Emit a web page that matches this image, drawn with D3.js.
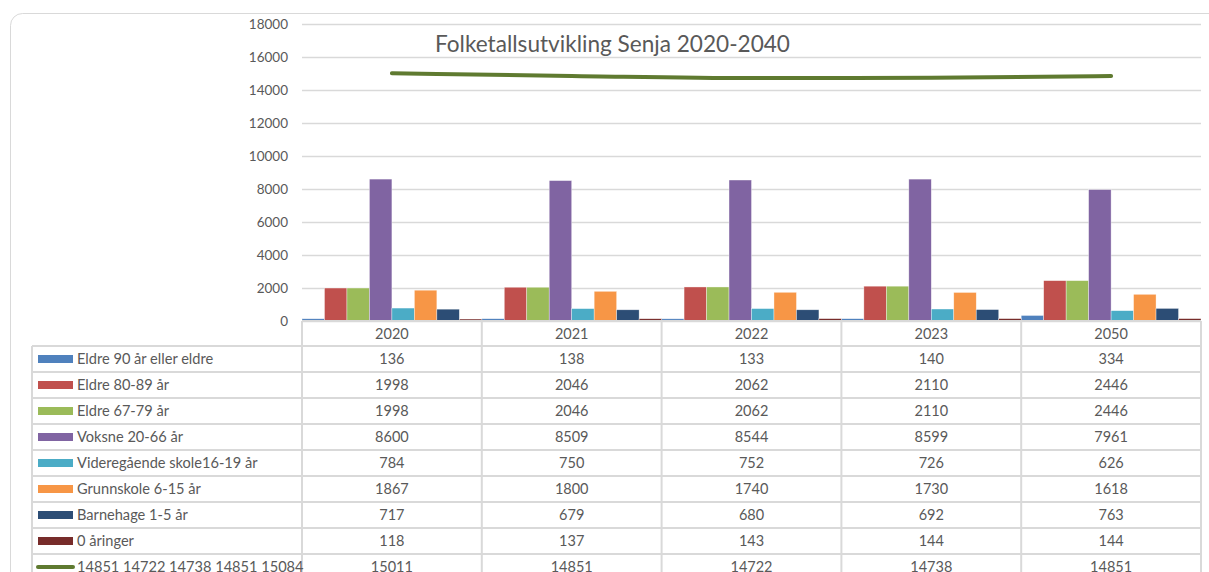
<!DOCTYPE html>
<html>
<head>
<meta charset="utf-8">
<script src="https://cdn.jsdelivr.net/npm/d3@7"></script>
<style>
  html, body { margin: 0; padding: 0; background: #fff; }
  svg { display: block; font-family: Lato, "Open Sans", sans-serif; }
</style>
</head>
<body>
<div id="chart"></div>
<script>
// data
var categories = ['2020', '2021', '2022', '2023', '2050'];
var seriesNames = [
  'Eldre 90 år eller eldre',
  'Eldre 80-89 år',
  'Eldre 67-79 år',
  'Voksne 20-66 år',
  'Videregående skole16-19 år',
  'Grunnskole 6-15 år',
  'Barnehage 1-5 år',
  '0 åringer'
];
var seriesValues = [
  [136, 138, 133, 140, 334],
  [1998, 2046, 2062, 2110, 2446],
  [1998, 2046, 2062, 2110, 2446],
  [8600, 8509, 8544, 8599, 7961],
  [784, 750, 752, 726, 626],
  [1867, 1800, 1740, 1730, 1618],
  [717, 679, 680, 692, 763],
  [118, 137, 143, 144, 144]
];
var lineName = '14851 14722 14738 14851 15084';
var lineValues = [15011, 14851, 14722, 14738, 14851];
var yTicks = [0, 2000, 4000, 6000, 8000, 10000, 12000, 14000, 16000, 18000];
var title = 'Folketallsutvikling Senja 2020-2040';

var colors = ['#4F81BD', '#C0504D', '#9BBB59', '#8064A2', '#4BACC6', '#F79646', '#2C4D75', '#772C2A'];
var lineColor = '#5F7A30';
var textColor = '#595959';
var gridColor = '#D9D9D9';

var width = 1209, height = 572;
var plotLeft = 302, plotRight = 1201, plotTop = 24, plotBottom = 321;
var tableLeft = 32, rowH = 26;

var svg = d3.select('#chart').append('svg')
  .attr('width', width)
  .attr('height', height);

// card frame
svg.append('rect')
  .attr('x', 10.5).attr('y', 13.5)
  .attr('width', 1215).attr('height', 640)
  .attr('rx', 12)
  .attr('fill', '#fff')
  .attr('stroke', '#D9D9D9')
  .attr('stroke-width', 1);

var x = d3.scaleBand().domain(categories).range([plotLeft, plotRight]).padding(0);
var xs = d3.scaleBand().domain(d3.range(seriesNames.length)).range([0, x.bandwidth()]).padding(0);
var y = d3.scaleLinear().domain([0, 18000]).range([plotBottom, plotTop]);

// gridlines
svg.append('g')
  .attr('transform', 'translate(' + plotLeft + ',0)')
  .call(d3.axisLeft(y).tickValues(yTicks).tickSize(-(plotRight - plotLeft)).tickFormat(''))
  .call(function(g) { g.select('.domain').remove(); })
  .selectAll('line')
  .attr('stroke', gridColor)
  .attr('stroke-width', 1.3);

// y labels
var yAxis = svg.append('g')
  .attr('transform', 'translate(' + plotLeft + ',0)')
  .call(d3.axisLeft(y).tickValues(yTicks).tickSize(0).tickPadding(14).tickFormat(d3.format('d')));
yAxis.select('.domain').remove();
yAxis.selectAll('text')
  .attr('fill', textColor)
  .style('font-size', '13.5px')
  .style('font-family', 'Lato, "Open Sans", sans-serif');

// bars
var groups = svg.selectAll('.series')
  .data(seriesValues)
  .enter()
  .append('g')
  .attr('class', 'series')
  .attr('fill', function(d, i) { return colors[i]; });

groups.each(function(vals, si) {
  d3.select(this).selectAll('rect')
    .data(vals)
    .enter()
    .append('rect')
    .attr('x', function(d, ci) { return x(categories[ci]) + xs(si); })
    .attr('width', xs.bandwidth())
    .attr('y', function(d) { return y(d); })
    .attr('height', function(d) { return y(0) - y(d); })
    .attr('stroke', '#fff')
    .attr('stroke-opacity', 0.6)
    .attr('stroke-width', 0.6);
});

// total line
var line = d3.line()
  .x(function(d, i) { return x(categories[i]) + x.bandwidth() / 2; })
  .y(function(d) { return y(d); })
  .curve(d3.curveMonotoneX);
svg.append('path')
  .datum(lineValues)
  .attr('d', line)
  .attr('fill', 'none')
  .attr('stroke', lineColor)
  .attr('stroke-width', 4)
  .attr('stroke-linecap', 'round');

// title
svg.append('text')
  .attr('x', 435)
  .attr('y', 52)
  .attr('fill', textColor)
  .style('font-size', '22.6px')
  .text(title);

// data table
var rows = seriesNames.map(function(n, i) {
  return { name: n, values: seriesValues[i], color: colors[i], type: 'bar' };
});
rows.push({ name: lineName, values: lineValues, color: lineColor, type: 'line' });

var tableTop = plotBottom + rowH - 1;
var tableBottom = tableTop + rows.length * rowH;
var tbl = svg.append('g').attr('stroke', gridColor).attr('stroke-width', 2);

// baseline
tbl.append('line')
  .attr('x1', plotLeft).attr('x2', plotRight)
  .attr('y1', plotBottom).attr('y2', plotBottom);

// horizontal rules
tbl.selectAll('.hrule')
  .data(d3.range(rows.length + 1))
  .enter()
  .append('line')
  .attr('x1', tableLeft).attr('x2', plotRight)
  .attr('y1', function(i) { return tableTop + i * rowH; })
  .attr('y2', function(i) { return tableTop + i * rowH; });

// vertical rules
var cuts = categories.map(function(c) { return x(c); }).concat([plotRight]);
tbl.selectAll('.vrule')
  .data(cuts)
  .enter()
  .append('line')
  .attr('x1', function(d) { return d; }).attr('x2', function(d) { return d; })
  .attr('y1', plotBottom).attr('y2', tableBottom);
tbl.append('line')
  .attr('x1', tableLeft).attr('x2', tableLeft)
  .attr('y1', tableTop).attr('y2', tableBottom);

// header row
svg.selectAll('.cat')
  .data(categories)
  .enter()
  .append('text')
  .attr('x', function(d) { return x(d) + x.bandwidth() / 2; })
  .attr('y', plotBottom + rowH / 2 + 5)
  .attr('text-anchor', 'middle')
  .attr('fill', textColor)
  .style('font-size', '14.5px')
  .text(function(d) { return d; });

var row = svg.selectAll('.row')
  .data(rows)
  .enter()
  .append('g')
  .attr('transform', function(d, i) { return 'translate(0,' + (tableTop + i * rowH + rowH / 2) + ')'; });

row.filter(function(d) { return d.type === 'bar'; })
  .append('rect')
  .attr('x', 38).attr('y', -4)
  .attr('width', 35).attr('height', 8)
  .attr('fill', function(d) { return d.color; });
row.filter(function(d) { return d.type === 'line'; })
  .append('line')
  .attr('x1', 38).attr('x2', 73)
  .attr('y1', 0).attr('y2', 0)
  .attr('stroke', function(d) { return d.color; })
  .attr('stroke-width', 4)
  .attr('stroke-linecap', 'round');

row.append('text')
  .attr('x', 77)
  .attr('y', 5)
  .attr('fill', textColor)
  .style('font-size', '14.6px')
  .text(function(d) { return d.name; });

row.selectAll('.val')
  .data(function(d) { return d.values; })
  .enter()
  .append('text')
  .attr('x', function(d, i) { return x(categories[i]) + x.bandwidth() / 2; })
  .attr('y', 5)
  .attr('text-anchor', 'middle')
  .attr('fill', textColor)
  .style('font-size', '14.5px')
  .text(function(d) { return d; });
</script>
</body>
</html>
